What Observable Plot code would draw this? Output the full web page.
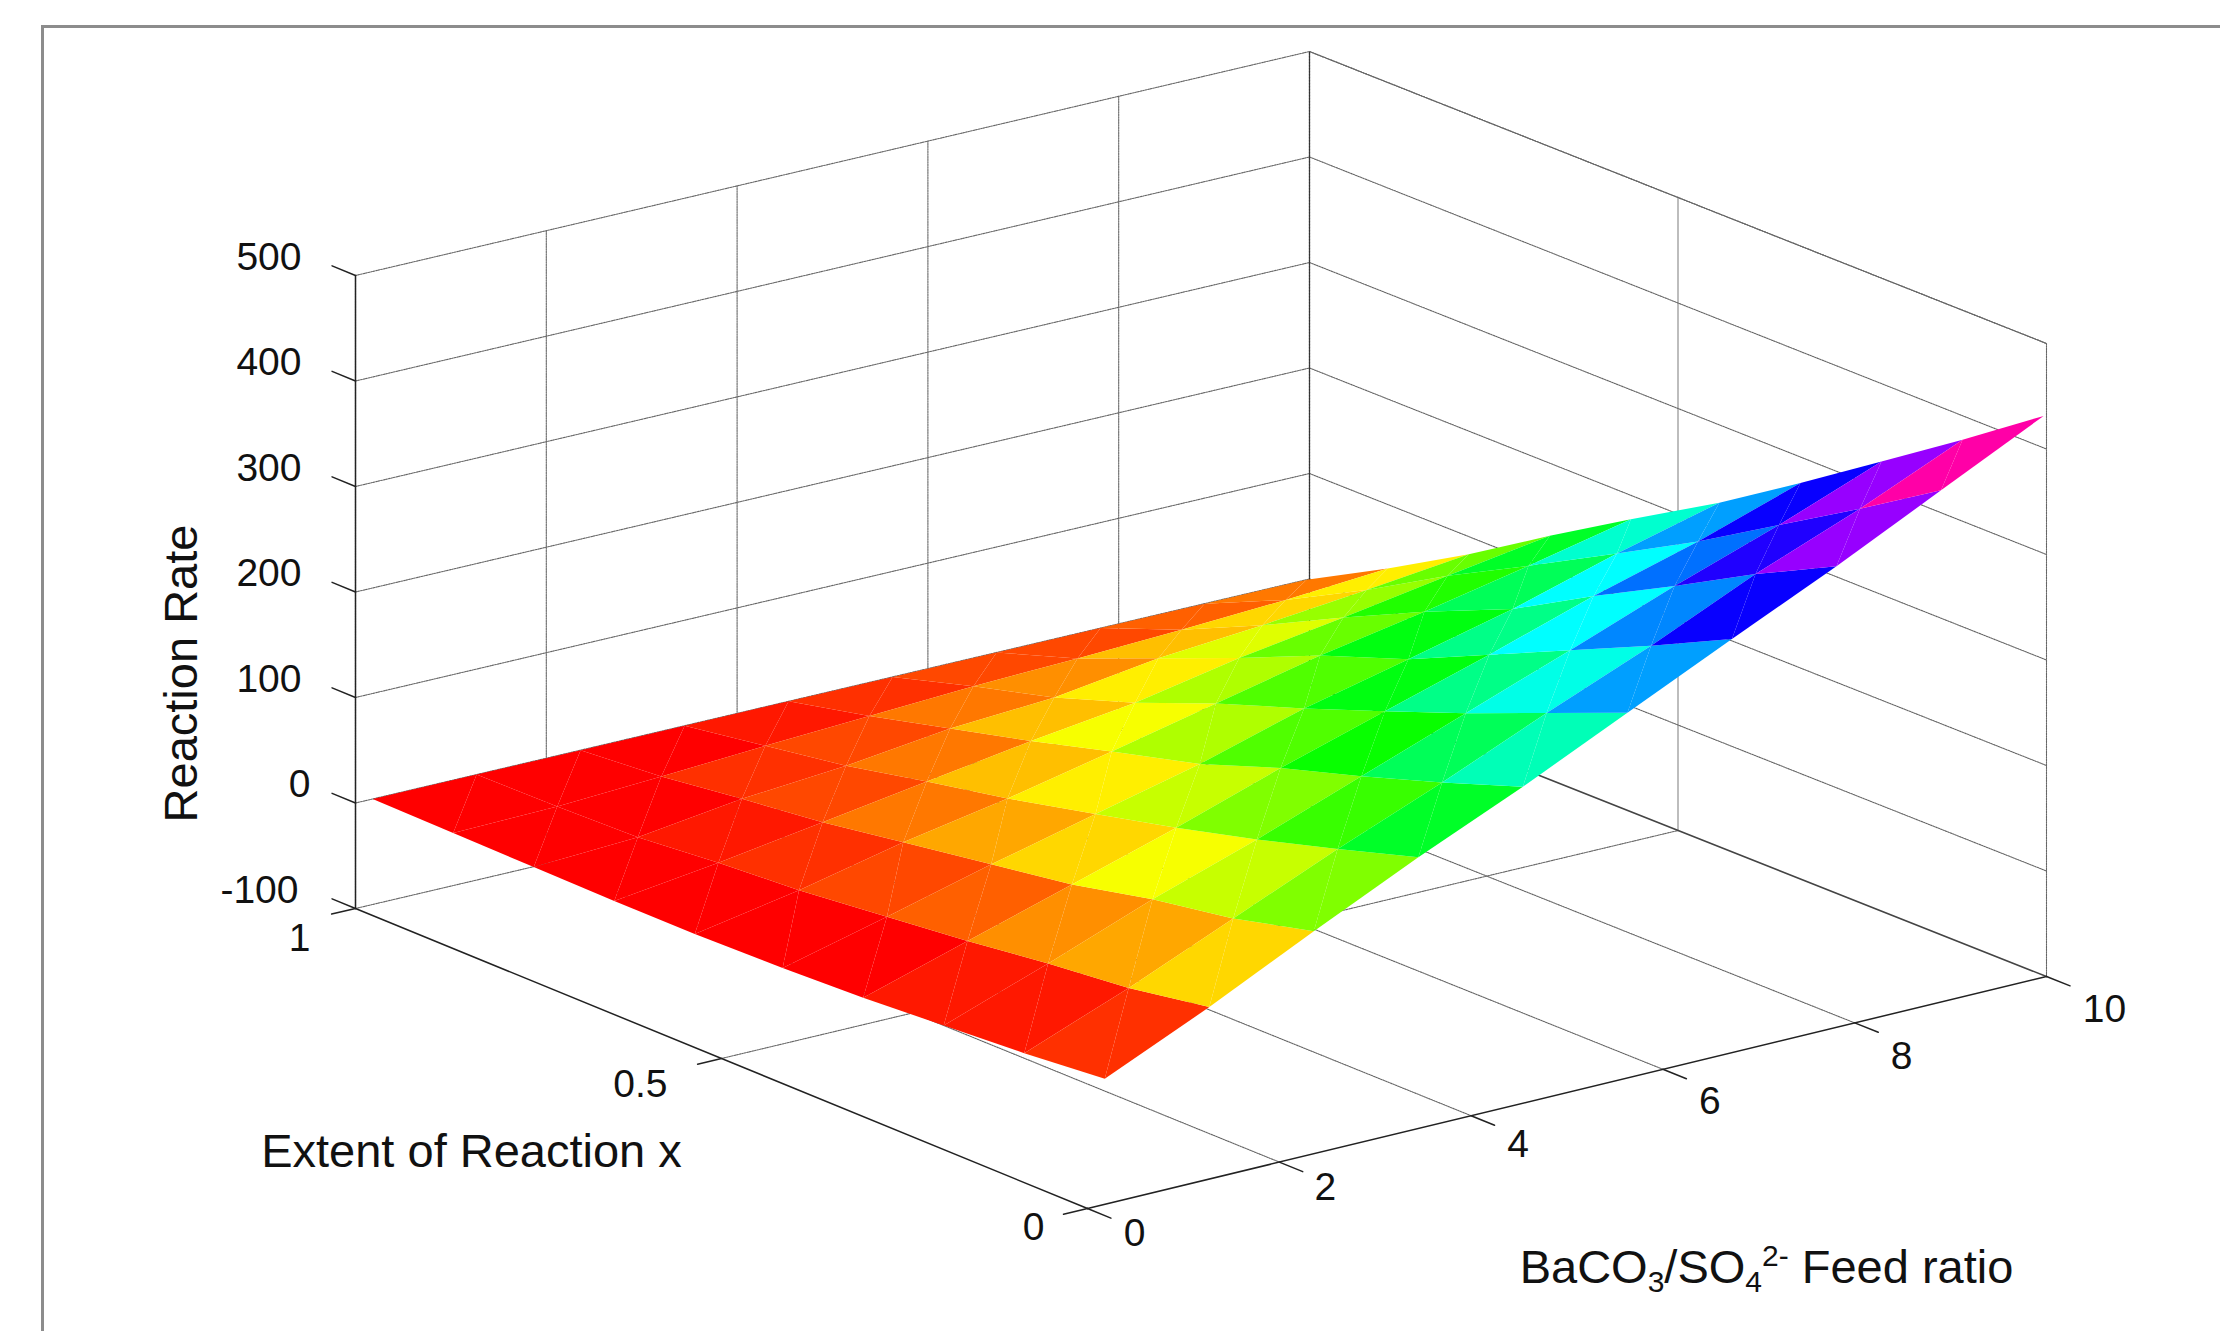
<!DOCTYPE html>
<html>
<head>
<meta charset="utf-8">
<script src="https://cdn.jsdelivr.net/npm/d3@7"></script>
<script src="https://cdn.jsdelivr.net/npm/@observablehq/plot@0.6"></script>
<style>
  html, body { margin: 0; padding: 0; background: #fff; overflow: hidden; }
  #wrap { position: relative; width: 2220px; height: 1331px; }
  #wrap svg { display: block; position: absolute; left: 0; top: 0; }
  #box { position: absolute; left: 41px; top: 25px; right: 0; bottom: 0;
         border-left: 3px solid #8c8c8c; border-top: 3px solid #8c8c8c; }
</style>
</head>
<body>
<div id="wrap"><div id="box"></div></div>
<script>
// ---- chart values ----
const feedTicks = [0, 2, 4, 6, 8, 10];
const extentTicks = [0, 0.5, 1];
const rateTicks = [-100, 0, 100, 200, 300, 400, 500];

const feedGrid = [0.18, 1.27, 2.36, 3.45, 4.54, 5.63, 6.72, 7.81, 8.9, 9.97];
const extentGrid = [1, 0.89, 0.78, 0.67, 0.56, 0.44, 0.33, 0.22, 0.11, 0];
// rows: feedGrid, columns: extentGrid
const rateRow0 = [0, -1, -2, -3, -3, -1, 2, 7, 12, 19];
const rateRow1 = [0, 1, 3, 10, 15, 24, 32, 42, 50, 63];
const rateRow2 = [0, 6, 16, 25, 37, 50, 62, 79, 92, 111];
const rateRow3 = [0, 12, 24, 40, 55, 74, 92, 112, 134, 157];
const rateRow4 = [0, 17, 36, 55, 76, 98, 125, 148, 173, 200];
const rateRow5 = [0, 22, 42, 68, 98, 127, 155, 184, 215, 246];
const rateRow6 = [0, 25, 56, 87, 120, 150, 185, 220, 255, 292];
const rateRow7 = [0, 29, 64, 102, 138, 174, 217, 257, 299, 337];
const rateRow8 = [0, 34, 74, 118, 158, 203, 245, 291, 337, 385];
const rateRow9 = [0, 41, 85, 133, 179, 228, 277, 328, 379, 432];
const rates = [rateRow0, rateRow1, rateRow2, rateRow3, rateRow4, rateRow5, rateRow6, rateRow7, rateRow8, rateRow9];

// ---- oblique view of the box: screen position of its four floor corners ----
const corner = {O: [1087, 1208], C: [2046, 976], A: [355, 908], B: [1309, 684]};
const rateUnit = 1.055;
function px(d) {
  const a = d.feed / 10, e = d.extent, {O, C, A, B} = corner;
  return O[0] + a * (C[0] - O[0]) + e * (A[0] - O[0]) + a * e * (B[0] - A[0] - C[0] + O[0]);
}
function py(d) {
  const a = d.feed / 10, e = d.extent, {O, C, A, B} = corner;
  return O[1] + a * (C[1] - O[1]) + e * (A[1] - O[1]) + a * e * (B[1] - A[1] - C[1] + O[1]) - (d.rate + 100) * rateUnit;
}

// ---- tables built from the arrays ----
const seg = (id, p, q) => [{id, feed: p[0], extent: p[1], rate: p[2]}, {id, feed: q[0], extent: q[1], rate: q[2]}];
const [R0, R1] = d3.extent(rateTicks);

const gridLines = [
  ...feedTicks.slice(1, -1).flatMap(f => [
    ...seg(`bv${f}`, [f, 1, R0], [f, 1, R1]),
    ...seg(`fl${f}`, [f, 1, R0], [f, 0, R0])
  ]),
  ...seg("bv0", [0, 1, R0], [0, 1, R1]),
  ...seg("top", [10, 1, R1], [10, 0, R1]),
  ...rateTicks.slice(1).flatMap(r => [
    ...seg(`bh${r}`, [0, 1, r], [10, 1, r]),
    ...seg(`sh${r}`, [10, 1, r], [10, 0, r])
  ]),
  ...seg("floorMid", [0, 0.5, R0], [10, 0.5, R0]),
  ...seg("floorBack", [0, 1, R0], [10, 1, R0]),
  ...seg("corner", [10, 0, R0], [10, 0, R1])
];
const cornerLine = seg("back", [10, 1, R0], [10, 1, R1]);
const sideGrid = seg("sideMid", [10, 0.5, R0], [10, 0.5, R1]);
const floorEdge = seg("floorEdge", [10, 1, R0], [10, 0, R0]);
const axisLines = [
  ...seg("axX", [0, 1, R0], [0, 0, R0]),
  ...seg("axF", [0, 0, R0], [10, 0, R0]),
  ...seg("axR", [0, 1, R0], [0, 1, R1]),
  ...rateTicks.flatMap(r => seg(`tr${r}`, [0, 1, r], [0, 1.032, r])),
  ...extentTicks.flatMap(e => seg(`te${e}`, [0, e, R0], [-0.25, e, R0])),
  ...feedTicks.flatMap(f => seg(`tf${f}`, [f, 0, R0], [f, -0.032, R0]))
];

const node = (i, k) => ({feed: feedGrid[i], extent: extentGrid[k], rate: rates[i][k]});
const facets = [];
for (let i = 0; i < feedGrid.length - 1; ++i) {
  for (let k = 0; k < extentGrid.length - 1; ++k) {
    const level = rates[i][k + 1]; // flat shading: one corner's rate colours the whole cell
    const tri = (n, ...pts) => pts.forEach(p => facets.push({...p, id: `${i}-${k}-${n}`, level}));
    tri(0, node(i, k), node(i + 1, k), node(i, k + 1));
    tri(1, node(i + 1, k), node(i + 1, k + 1), node(i, k + 1));
  }
}

const rateLabels = rateTicks.map(r => ({feed: 0, extent: 1, rate: r, label: String(r), nudge: r === 0 ? 9 : r === -100 ? -3 : 0}));
const extentLabels = [
  {feed: 0, extent: 1, rate: R0, label: "1", ox: -45, oy: 30},
  {feed: 0, extent: 0.5, rate: R0, label: "0.5", ox: -54, oy: 26},
  {feed: 0, extent: 0, rate: R0, label: "0", ox: -43, oy: 19}
];
const feedOffsets = [[47, 25], [46, 25], [47, 29], [47, 32], [47, 34], [58, 33]];
const feedLabels = feedTicks.map((f, n) => ({feed: f, extent: 0, rate: R0, label: String(f), ox: feedOffsets[n][0], oy: feedOffsets[n][1]}));

// hsv wheel in 64 steps
const hsv64 = t => d3.hsl(Math.floor(Math.min(t, 0.999) * 64) / 64 * 360, 1, 0.5).toString();

const tick = 39, title = 47, ink = "#111";
const chart = Plot.plot({
  width: 2220,
  height: 1331,
  margin: 0,
  x: {domain: [0, 2220], range: [0, 2220], axis: null},
  y: {domain: [0, 1331], range: [0, 1331], axis: null},
  color: {type: "linear", domain: [0, 432], clamp: true, interpolate: hsv64},
  style: {background: "transparent", fontFamily: "'Liberation Sans', Arial, sans-serif"},
  marks: [
    Plot.line(sideGrid, {x: px, y: py, z: "id", stroke: "#bdbdbd", strokeWidth: 2}),
    Plot.line(gridLines, {x: px, y: py, z: "id", stroke: "#666", strokeWidth: 1.1, strokeDasharray: "1.6 1"}),
    Plot.line(cornerLine, {x: px, y: py, z: "id", stroke: "#333", strokeWidth: 1.4, strokeDasharray: "2 1"}),
    Plot.line(floorEdge, {x: px, y: py, z: "id", stroke: "#444", strokeWidth: 1.6}),
    Plot.line(axisLines, {x: px, y: py, z: "id", stroke: "#222", strokeWidth: 1.5}),
    Plot.line(facets, {x: px, y: py, z: "id", fill: "level", stroke: null}),
    Plot.text(rateLabels, {x: d => px(d) - 54 + d.nudge, y: d => py(d) - 18, text: "label", textAnchor: "end", fontSize: tick, fill: ink}),
    Plot.text(extentLabels, {x: d => px(d) + d.ox, y: d => py(d) + d.oy, text: "label", textAnchor: "end", fontSize: tick, fill: ink}),
    Plot.text(feedLabels, {x: d => px(d) + d.ox, y: d => py(d) + d.oy, text: "label", fontSize: tick, fill: ink}),
    Plot.text(["Reaction Rate"], {frameAnchor: "top-left", dx: 181, dy: 673, rotate: -90, textAnchor: "middle", lineAnchor: "middle", fontSize: title, fill: ink}),
    Plot.text(["Extent of Reaction x"], {frameAnchor: "top-left", dx: 471, dy: 1151, textAnchor: "middle", lineAnchor: "middle", fontSize: title, fill: ink}),
    Plot.text(["BaCO3/SO42- Feed ratio"], {frameAnchor: "top-left", dx: 1766, dy: 1267, textAnchor: "middle", lineAnchor: "middle", fontSize: title, fill: ink, className: "feed-title"})
  ]
});
document.getElementById("wrap").appendChild(chart);

// chemical formula: sub- and superscripts on the feed-ratio title
d3.select(chart).selectAll(".feed-title text").each(function () {
  const t = d3.select(this);
  t.text(null);
  const parts = [["BaCO", 0], ["3", 9], ["/SO", -9], ["4", 9], ["2-", -26], [" Feed ratio", 17]];
  for (const [s, dy] of parts) {
    const small = s === "3" || s === "4" || s === "2-";
    t.append("tspan").attr("dy", dy).attr("font-size", small ? 30 : null).attr("xml:space", "preserve").text(s);
  }
});
</script>
</body>
</html>
